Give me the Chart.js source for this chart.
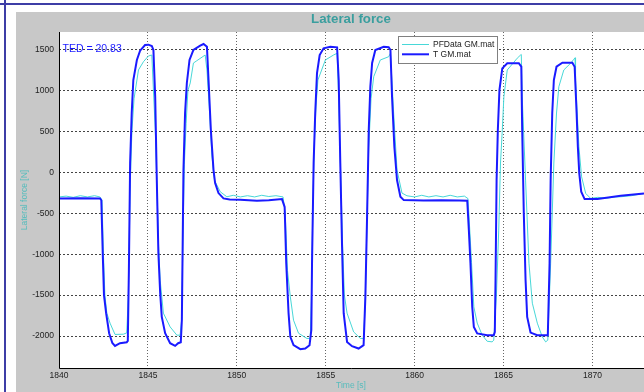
<!DOCTYPE html>
<html>
<head>
<meta charset="utf-8">
<script src="https://cdn.jsdelivr.net/npm/chart.js@4.4.0/dist/chart.umd.min.js"></script>
<style>
  html, body { margin: 0; padding: 0; background: #fff; width: 644px; height: 392px; overflow: hidden; position: relative; }
  #lineTop { position: absolute; left: 0; top: 3px; width: 644px; height: 2px; background: #3d3da6; }
  #lineLeft { position: absolute; left: 4px; top: 0; width: 2px; height: 392px; background: #3d3da6; }
  #fig { position: absolute; left: 16px; top: 12px; width: 628px; height: 380px; background: #c8c8c8; }
  canvas { display: block; }
</style>
</head>
<body>
<div id="lineTop"></div>
<div id="lineLeft"></div>
<div id="fig"><canvas id="myChart" width="628" height="380" style="width:628px;height:380px"></canvas></div>
<script>
// T GM.mat (blue)
const tTime = [1840.00, 1841.20, 1842.31, 1842.38, 1842.46, 1842.53, 1842.65, 1842.82, 1843.00, 1843.15,
  1843.43, 1843.81, 1843.87, 1843.93, 1844.00, 1844.09, 1844.18, 1844.38, 1844.56, 1844.84,
  1845.03, 1845.22, 1845.31, 1845.41, 1845.50, 1845.59, 1845.69, 1845.78, 1845.97, 1846.25,
  1846.53, 1846.70, 1846.85, 1846.91, 1847.00, 1847.09, 1847.19, 1847.34, 1847.56, 1847.94,
  1848.13, 1848.32, 1848.41, 1848.54, 1848.69, 1848.78, 1848.97, 1849.25, 1849.60, 1850.19,
  1851.13, 1851.80, 1852.54, 1852.69, 1852.78, 1852.91, 1853.01, 1853.19, 1853.57, 1853.85,
  1854.09, 1854.19, 1854.23, 1854.32, 1854.41, 1854.51, 1854.66, 1854.88, 1855.26, 1855.64,
  1855.73, 1855.82, 1855.92, 1856.01, 1856.20, 1856.48, 1856.85, 1857.13, 1857.23, 1857.33,
  1857.42, 1857.51, 1857.61, 1857.79, 1858.26, 1858.54, 1858.64, 1858.73, 1858.86, 1859.01,
  1859.20, 1859.39, 1860.50, 1861.50, 1862.50, 1862.96, 1863.05, 1863.14, 1863.24, 1863.33,
  1863.52, 1864.08, 1864.45, 1864.51, 1864.55, 1864.61, 1864.68, 1864.77, 1864.93, 1865.21,
  1865.86, 1866.00, 1866.05, 1866.14, 1866.24, 1866.33, 1866.52, 1866.90, 1867.49, 1867.59,
  1867.65, 1867.74, 1867.83, 1867.98, 1868.31, 1868.87, 1869.00, 1869.11, 1869.18, 1869.26,
  1869.37, 1869.56, 1870.28, 1871.59, 1872.90];
const tForce = [-318, -315, -318, -340, -987, -1500, -1720, -1965, -2085, -2120,
  -2087, -2075, -2060, -1200, 114, 725, 1128, 1373, 1487, 1556,
  1560, 1544, 1495, 924, -94, -987, -1476, -1765, -1965, -2087,
  -2120, -2087, -2075, -1800, 28, 725, 1092, 1373, 1495, 1548,
  1568, 1535, 1128, 517, 28, -131, -253, -318, -330, -335,
  -347, -340, -326, -421, -1109, -1720, -2010, -2111, -2160, -2152,
  -2111, -1928, -1109, 114, 725, 1214, 1434, 1516, 1535, 1528,
  1128, 114, -910, -1720, -2071, -2123, -2152, -2111, -1521, -498,
  517, 1046, 1336, 1495, 1535, 1528, 1495, 924, 313, -94,
  -298, -339, -345, -340, -345, -347, -705, -1109, -1643, -1888,
  -1968, -1989, -1989, -1950, -1317, -94, 517, 1006, 1271, 1333,
  1333, 1291, 517, -498, -1317, -1765, -1957, -1989, -1989, -1109,
  -94, 725, 1128, 1291, 1340, 1340, 1291, 725, 313, -12,
  -237, -326, -326, -286, -257];

// PFData GM.mat (cyan)
const pfTime = [1840.00, 1840.40, 1840.80, 1841.20, 1841.60, 1842.00, 1842.30, 1842.42, 1842.50, 1842.58,
  1842.69, 1842.87, 1843.15, 1843.62, 1843.81, 1843.90, 1844.00, 1844.10, 1844.22, 1844.47,
  1844.75, 1845.03, 1845.22, 1845.31, 1845.42, 1845.50, 1845.60, 1845.69, 1845.87, 1846.25,
  1846.63, 1846.81, 1846.90, 1846.97, 1847.05, 1847.15, 1847.25, 1847.38, 1847.56, 1847.75,
  1848.22, 1848.32, 1848.45, 1848.60, 1848.75, 1849.07, 1849.44, 1849.80, 1850.20, 1850.60,
  1851.00, 1851.40, 1851.80, 1852.20, 1852.60, 1852.72, 1852.85, 1853.01, 1853.19, 1853.47,
  1853.94, 1854.13, 1854.20, 1854.27, 1854.35, 1854.45, 1854.56, 1854.98, 1855.44, 1855.64,
  1855.73, 1855.85, 1855.95, 1856.05, 1856.20, 1856.57, 1856.95, 1857.13, 1857.22, 1857.32,
  1857.42, 1857.55, 1857.70, 1858.07, 1858.54, 1858.64, 1858.82, 1859.01, 1859.29, 1859.57,
  1860.00, 1860.40, 1860.80, 1861.20, 1861.60, 1862.00, 1862.40, 1862.80, 1863.00, 1863.10,
  1863.20, 1863.33, 1863.52, 1863.80, 1864.08, 1864.36, 1864.45, 1864.60, 1864.73, 1864.83,
  1864.93, 1865.02, 1865.21, 1865.58, 1865.77, 1865.96, 1866.00, 1866.05, 1866.24, 1866.43,
  1866.62, 1866.90, 1867.18, 1867.37, 1867.49, 1867.65, 1867.83, 1867.98, 1868.11, 1868.39,
  1868.77, 1868.96, 1869.02, 1869.05, 1869.24, 1869.39, 1869.62, 1869.90, 1870.30, 1870.80,
  1871.30, 1871.59, 1872.20, 1872.90];
const pfForce = [-300, -290, -305, -285, -300, -285, -300, -340, -1000, -1500,
  -1720, -1842, -1980, -1977, -1961, -1500, -200, 500, 900, 1251,
  1352, 1422, 1434, 1006, 500, -100, -900, -1317, -1720, -1888,
  -1989, -1989, -1800, -800, 100, 600, 1000, 1092, 1336, 1364,
  1434, 1251, 800, 200, -100, -237, -298, -280, -300, -285,
  -300, -280, -295, -285, -300, -500, -1200, -1521, -1806, -1965,
  -2029, -2029, -1500, -500, 300, 800, 1128, 1373, 1434, 1455,
  900, -100, -900, -1500, -1720, -1949, -2029, -2029, -1600, -600,
  300, 900, 1169, 1373, 1413, 1455, 725, 28, -253, -286,
  -300, -280, -300, -285, -300, -280, -300, -290, -320, -700,
  -1100, -1643, -1841, -1989, -2063, -2071, -2050, -1500, -705, 114,
  517, 924, 1251, 1345, 1395, 1434, 1440, 924, -94, -1109,
  -1598, -1842, -2010, -2071, -2050, -1109, 114, 725, 1046, 1251,
  1333, 1383, 1400, 1128, 313, -54, -257, -318, -305, -315,
  -300, -298, -285, -257];

const xTicks = [1840, 1845, 1850, 1855, 1860, 1865, 1870];
const yTicks = [-2000, -1500, -1000, -500, 0, 500, 1000, 1500];
const seriesNames = ['PFData GM.mat', 'T GM.mat'];
const tedLabel = 'TED = 20.83';

const BLUE = '#1a1aff';
const CYAN = '#48d8d8';
const TEAL = '#3a9e9e';
const FONT = '"Liberation Sans", Arial, sans-serif';

const toPoints = (xs, ys) => xs.map((x, i) => ({x: x, y: ys[i]}));

const decorations = {
  id: 'decorations',
  beforeDraw(chart) {
    const {ctx, chartArea: a} = chart;
    ctx.save();
    ctx.fillStyle = '#ffffff';
    ctx.fillRect(a.left, a.top, a.right - a.left, a.bottom - a.top);
    ctx.restore();
  },
  afterDraw(chart) {
    const {ctx, chartArea: a} = chart;
    ctx.save();
    // axis lines
    ctx.strokeStyle = '#000';
    ctx.lineWidth = 1;
    ctx.beginPath();
    ctx.moveTo(a.left + 0.5, a.top);
    ctx.lineTo(a.left + 0.5, a.bottom + 0.5);
    ctx.lineTo(a.right, a.bottom + 0.5);
    ctx.stroke();

    // title
    ctx.fillStyle = TEAL;
    ctx.font = 'bold 13.3px ' + FONT;
    ctx.textAlign = 'center';
    ctx.textBaseline = 'middle';
    ctx.fillText('Lateral force', 335, 7.5);

    // axis titles
    ctx.fillStyle = '#55bcbc';
    ctx.font = '8.5px ' + FONT;
    ctx.fillText('Time [s]', 335, 373.5);
    ctx.save();
    ctx.translate(8.5, 188);
    ctx.rotate(-Math.PI / 2);
    ctx.fillText('Lateral force [N]', 0, 0);
    ctx.restore();

    // TED text
    ctx.fillStyle = BLUE;
    ctx.font = '10.5px ' + FONT;
    ctx.textAlign = 'left';
    ctx.fillText(tedLabel, 46.5, 37);

    // legend
    const lx = 382.5, ly = 24.5, lw = 99, lh = 27;
    ctx.fillStyle = '#ffffff';
    ctx.fillRect(lx, ly, lw, lh);
    ctx.strokeStyle = '#808080';
    ctx.strokeRect(lx, ly, lw, lh);
    ctx.lineWidth = 1;
    ctx.strokeStyle = CYAN;
    ctx.beginPath(); ctx.moveTo(386, 32.5); ctx.lineTo(413, 32.5); ctx.stroke();
    ctx.lineWidth = 2;
    ctx.strokeStyle = BLUE;
    ctx.beginPath(); ctx.moveTo(386, 42.3); ctx.lineTo(413, 42.3); ctx.stroke();
    ctx.fillStyle = '#222';
    ctx.font = '8.5px ' + FONT;
    ctx.fillText(seriesNames[0], 417, 32.5);
    ctx.fillText(seriesNames[1], 417, 42.5);
    ctx.restore();
  }
};

const context = document.getElementById('myChart').getContext('2d');
const myChart = new Chart(context, {
  type: 'line',
  data: {
    datasets: [{
      label: seriesNames[0],
      data: toPoints(pfTime, pfForce),
      borderColor: CYAN,
      borderWidth: 1,
      order: 1
    }, {
      label: seriesNames[1],
      data: toPoints(tTime, tForce),
      borderColor: BLUE,
      borderWidth: 2,
      order: 0
    }]
  },
  options: {
    responsive: false,
    animation: false,
    events: [],
    layout: {padding: {top: 20, right: 0, left: 0, bottom: 0}},
    elements: {point: {radius: 0}, line: {tension: 0}},
    plugins: {legend: {display: false}, title: {display: false}, tooltip: {enabled: false}},
    scales: {
      x: {
        type: 'linear',
        min: 1840,
        max: 1872.9,
        afterBuildTicks: (scale) => { scale.ticks = xTicks.map(v => ({value: v})); },
        afterFit: (scale) => { scale.height = 24; },
        grid: {color: '#666', drawTicks: false, lineWidth: 1},
        border: {display: false, dash: [1, 2]},
        ticks: {color: '#222', padding: 3, maxRotation: 0, font: {family: FONT, size: 8.5},
          callback: (v) => String(v)}
      },
      y: {
        min: -2390,
        max: 1715,
        afterBuildTicks: (scale) => { scale.ticks = yTicks.map(v => ({value: v})); },
        afterFit: (scale) => { scale.width = 43; },
        grid: {color: '#444', drawTicks: false, lineWidth: 1},
        border: {display: false, dash: [2, 2]},
        ticks: {color: '#222', padding: 5, font: {family: FONT, size: 8.5},
          callback: (v) => String(v)}
      }
    }
  },
  plugins: [decorations]
});
</script>
</body>
</html>
